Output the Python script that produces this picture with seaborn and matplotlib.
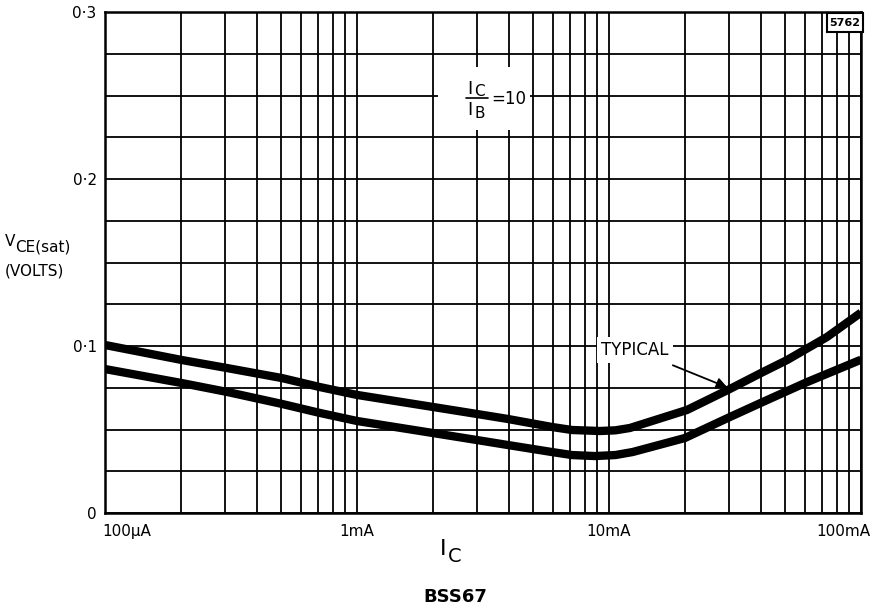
import numpy as np
import pandas as pd
import matplotlib
matplotlib.use("Agg")
import matplotlib.pyplot as plt
import matplotlib.transforms as mtransforms
import seaborn as sns
from matplotlib.ticker import LogLocator, MultipleLocator, NullFormatter, FixedLocator

# Collector current (A) and V_CE(sat) (V)
ic_upper = [1.0e-4, 2.02e-4, 3.05e-4, 5.04e-4, 7.13e-4, 1.0e-3, 2.0e-3, 2.99e-3, 3.97e-3,
            5.94e-3, 7.13e-3, 9.2e-3, 10.6e-3, 12.1e-3, 20.4e-3, 30.2e-3, 40.8e-3,
            50.9e-3, 73.3e-3, 1.0e-1]
vce_upper = [0.1006, 0.0916, 0.0868, 0.0808, 0.0754, 0.0707, 0.0635, 0.0593, 0.0563,
             0.0515, 0.0497, 0.0491, 0.0495, 0.0509, 0.0617, 0.0743, 0.0844,
             0.0916, 0.1054, 0.1200]

ic_lower = [1.0e-4, 2.02e-4, 3.05e-4, 5.04e-4, 7.13e-4, 1.0e-3, 2.0e-3, 2.99e-3, 3.97e-3,
            5.94e-3, 7.13e-3, 8.8e-3, 10.6e-3, 12.4e-3, 20.0e-3, 30.2e-3, 40.8e-3,
            61.1e-3, 1.0e-1]
vce_lower = [0.0862, 0.0778, 0.0725, 0.0653, 0.0599, 0.0551, 0.0479, 0.0437, 0.0407,
             0.0365, 0.0347, 0.0341, 0.0347, 0.0365, 0.0449, 0.0575, 0.0665,
             0.0784, 0.0918]

y_ticks = [0.0, 0.1, 0.2, 0.3]
y_ticklabels = ["0", "0·1", "0·2", "0·3"]
x_ticks = [1e-4, 1e-3, 1e-2, 1e-1]
x_ticklabels = ["100µA", "1mA", "10mA", "100mA"]

df = pd.concat([
    pd.DataFrame({"Ic": ic_upper, "Vce": vce_upper, "curve": "upper"}),
    pd.DataFrame({"Ic": ic_lower, "Vce": vce_lower, "curve": "lower"}),
])

sns.set_style("white")
plt.rcParams["font.family"] = ["DejaVu Sans"]
plt.rcParams["text.color"] = "black"
plt.rcParams["axes.labelcolor"] = "black"
plt.rcParams["xtick.color"] = "black"
plt.rcParams["ytick.color"] = "black"

fig = plt.figure(figsize=(8.77, 6.10), dpi=100)
ax = fig.add_axes([105 / 877, 1 - 513 / 610, (861 - 105) / 877, (513 - 12) / 610])

sns.lineplot(data=df, x="Ic", y="Vce", hue="curve", palette={"upper": "black", "lower": "black"},
             linewidth=6, legend=False, ax=ax, sort=True, estimator=None, zorder=5,
             solid_capstyle="butt", solid_joinstyle="round")

ax.set_xscale("log")
ax.set_xlim(1e-4, 1e-1)
ax.set_ylim(0, 0.3)

ax.xaxis.set_major_locator(FixedLocator(x_ticks))
ax.xaxis.set_minor_locator(LogLocator(base=10, subs=np.arange(2, 10)))
ax.xaxis.set_minor_formatter(NullFormatter())
ax.set_xticklabels(x_ticklabels)
ax.yaxis.set_major_locator(FixedLocator(y_ticks))
ax.set_yticklabels(y_ticklabels)
ax.yaxis.set_minor_locator(MultipleLocator(0.025))

ax.grid(True, which="both", color="black", linewidth=1.3)
ax.set_axisbelow(True)
for s in ax.spines.values():
    s.set_visible(True)
    s.set_color("black")
    s.set_linewidth(1.8)

ax.tick_params(axis="both", which="both", length=0, labelsize=11, colors="black")
ax.tick_params(axis="x", pad=8)
ax.tick_params(axis="y", pad=6)
labels = ax.get_xticklabels()
labels[0].set_horizontalalignment("left")
labels[0].set_transform(labels[0].get_transform() +
                        mtransforms.ScaledTranslation(-3 / 100, 0, fig.dpi_scale_trans))
labels[-1].set_horizontalalignment("right")
labels[-1].set_transform(labels[-1].get_transform() +
                         mtransforms.ScaledTranslation(9 / 100, 0, fig.dpi_scale_trans))

ax.set_xlabel("")
ax.set_ylabel("")

# y label
fig.text(5 / 877, 1 - 241 / 610, "V", fontsize=11, va="center", ha="left")
fig.text(15 / 877, 1 - 247 / 610, "CE(sat)", fontsize=11, va="center", ha="left")
fig.text(5 / 877, 1 - 271 / 610, "(VOLTS)", fontsize=11, va="center", ha="left")

# x label
fig.text(443 / 877, 1 - 549 / 610, "I", fontsize=16, va="center", ha="center")
fig.text(455 / 877, 1 - 556 / 610, "C", fontsize=14, va="center", ha="center")

# title
fig.text(455 / 877, 1 - 597 / 610, "BSS67", fontsize=13, fontweight="bold", va="center", ha="center")

# Ic/Ib = 10 annotation
fig.patches.append(plt.Rectangle((438 / 877, 1 - 130 / 610), 92 / 877, 63 / 610,
                                 transform=fig.transFigure, facecolor="white", edgecolor="none", zorder=3))
fig.text(470 / 877, 1 - 89 / 610, "I", fontsize=13, va="center", ha="center", zorder=4)
fig.text(479 / 877, 1 - 91 / 610, "C", fontsize=11, va="center", ha="center", zorder=4)
fig.add_artist(plt.Line2D([466 / 877, 488 / 877], [1 - 98 / 610, 1 - 98 / 610],
                          transform=fig.transFigure, color="black", linewidth=1.2, zorder=4))
fig.text(470 / 877, 1 - 110 / 610, "I", fontsize=13, va="center", ha="center", zorder=4)
fig.text(480 / 877, 1 - 113 / 610, "B", fontsize=11, va="center", ha="center", zorder=4)
fig.text(491 / 877, 1 - 99 / 610, "=10", fontsize=12, va="center", ha="left", zorder=4)

# TYPICAL annotation
ax.annotate("TYPICAL", xy=(29.5e-3, 0.0752), xytext=(17.3e-3, 0.0976),
            fontsize=12, ha="right", va="center",
            bbox=dict(facecolor="white", edgecolor="none", pad=3),
            arrowprops=dict(arrowstyle="-|>", color="black", linewidth=1.3,
                            mutation_scale=16, shrinkA=4, shrinkB=0),
            zorder=6)

# 5762 box
fig.patches.append(plt.Rectangle((827 / 877, 1 - 32 / 610), 36 / 877, 19 / 610,
                                 transform=fig.transFigure, facecolor="white",
                                 edgecolor="black", linewidth=1.5, zorder=3))
fig.text(845 / 877, 1 - 23 / 610, "5762", fontsize=8, fontweight="bold",
         va="center", ha="center", zorder=4)

fig.savefig("out.png", dpi=100, facecolor="white")
